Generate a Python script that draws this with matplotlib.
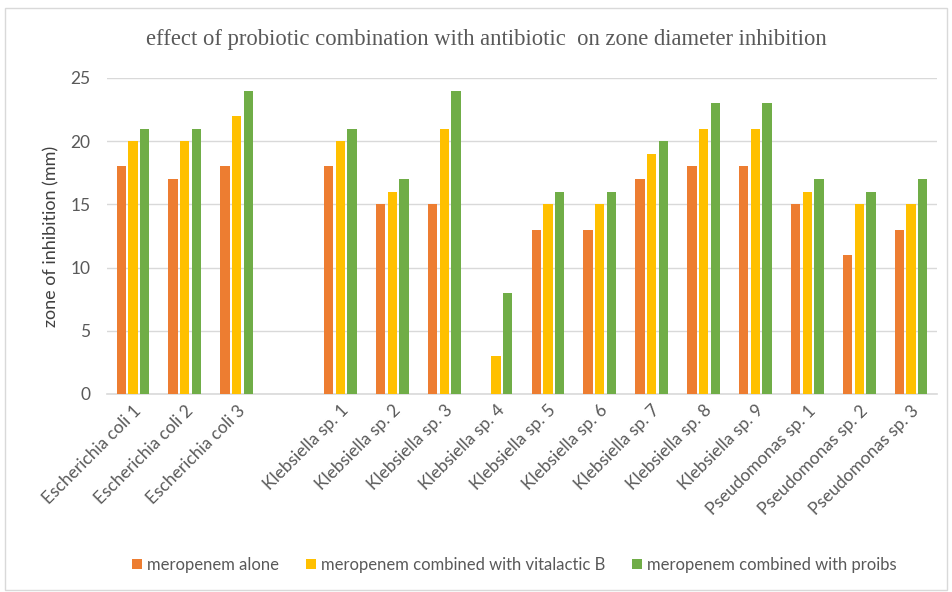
import matplotlib.pyplot as plt
import numpy as np
from matplotlib.patches import Rectangle

strains = ["Escherichia coli 1", "Escherichia coli 2", "Escherichia coli 3", "",
           "Klebsiella sp. 1", "Klebsiella sp. 2", "Klebsiella sp. 3", "Klebsiella sp. 4",
           "Klebsiella sp. 5", "Klebsiella sp. 6", "Klebsiella sp. 7", "Klebsiella sp. 8",
           "Klebsiella sp. 9", "Pseudomonas sp. 1", "Pseudomonas sp. 2", "Pseudomonas sp. 3"]
# the blank slot is an empty category in the original sheet
alone = [18, 17, 18, 0, 18, 15, 15, 0, 13, 13, 17, 18, 18, 15, 11, 13]
vitalactic = [20, 20, 22, 0, 20, 16, 21, 3, 15, 15, 19, 21, 21, 16, 15, 15]
proibs = [21, 21, 24, 0, 21, 17, 24, 8, 16, 16, 20, 23, 23, 17, 16, 17]
series_names = ["meropenem alone", "meropenem combined with vitalactic B",
                "meropenem combined with proibs"]
colors = ["#ED7D31", "#FFC000", "#70AD47"]

plt.rcParams['font.family'] = ['Lato', 'DejaVu Sans']

fig = plt.figure(figsize=(9.52, 5.92), dpi=100)
ax = fig.add_axes([107 / 952, 1 - 394 / 592, 830 / 952, 316 / 592])

fig.patches.append(Rectangle((5 / 952, 2 / 592), 942 / 952, 582 / 592,
                             transform=fig.transFigure, fill=False,
                             edgecolor="#D9D9D9", linewidth=1))

x = np.arange(len(strains))
w = 0.18
gap = 0.045
for i, (vals, name, c) in enumerate(zip([alone, vitalactic, proibs], series_names, colors)):
    ax.bar(x + (i - 1) * (w + gap), vals, width=w, color=c, label=name, zorder=3)

ax.set_xlim(-0.5, len(strains) - 0.5)
ax.set_ylim(0, 25)
ax.set_yticks(range(0, 26, 5))
ax.yaxis.grid(True, color="#D9D9D9", linewidth=1, zorder=0)
for s in ["top", "right", "left"]:
    ax.spines[s].set_visible(False)
ax.spines["bottom"].set_color("#D9D9D9")
ax.spines["bottom"].set_linewidth(1.2)
ax.tick_params(axis="both", length=0, colors="#595959", labelsize=12.5)
ax.tick_params(axis="y", pad=12)
ax.set_xticks(x)
ax.set_xticklabels(strains, rotation=45, ha="right", rotation_mode="anchor")
ax.tick_params(axis="x", pad=6)

ax.set_ylabel("zone of inhibition (mm)", fontsize=13, color="#404040", labelpad=8)

fig.text(0.511, 1 - 40 / 592, "effect of probiotic combination with antibiotic  on zone diameter inhibition",
         ha="center", va="center", fontsize=16.3, color="#595959", family="Liberation Serif")

fig.legend(loc="center", bbox_to_anchor=(0.540, 1 - 565 / 592), ncol=3, frameon=False,
           fontsize=12, handlelength=0.6, handleheight=0.6, handletextpad=0.3,
           columnspacing=1.6, labelcolor="#595959")

fig.savefig("out.png", dpi=100)
